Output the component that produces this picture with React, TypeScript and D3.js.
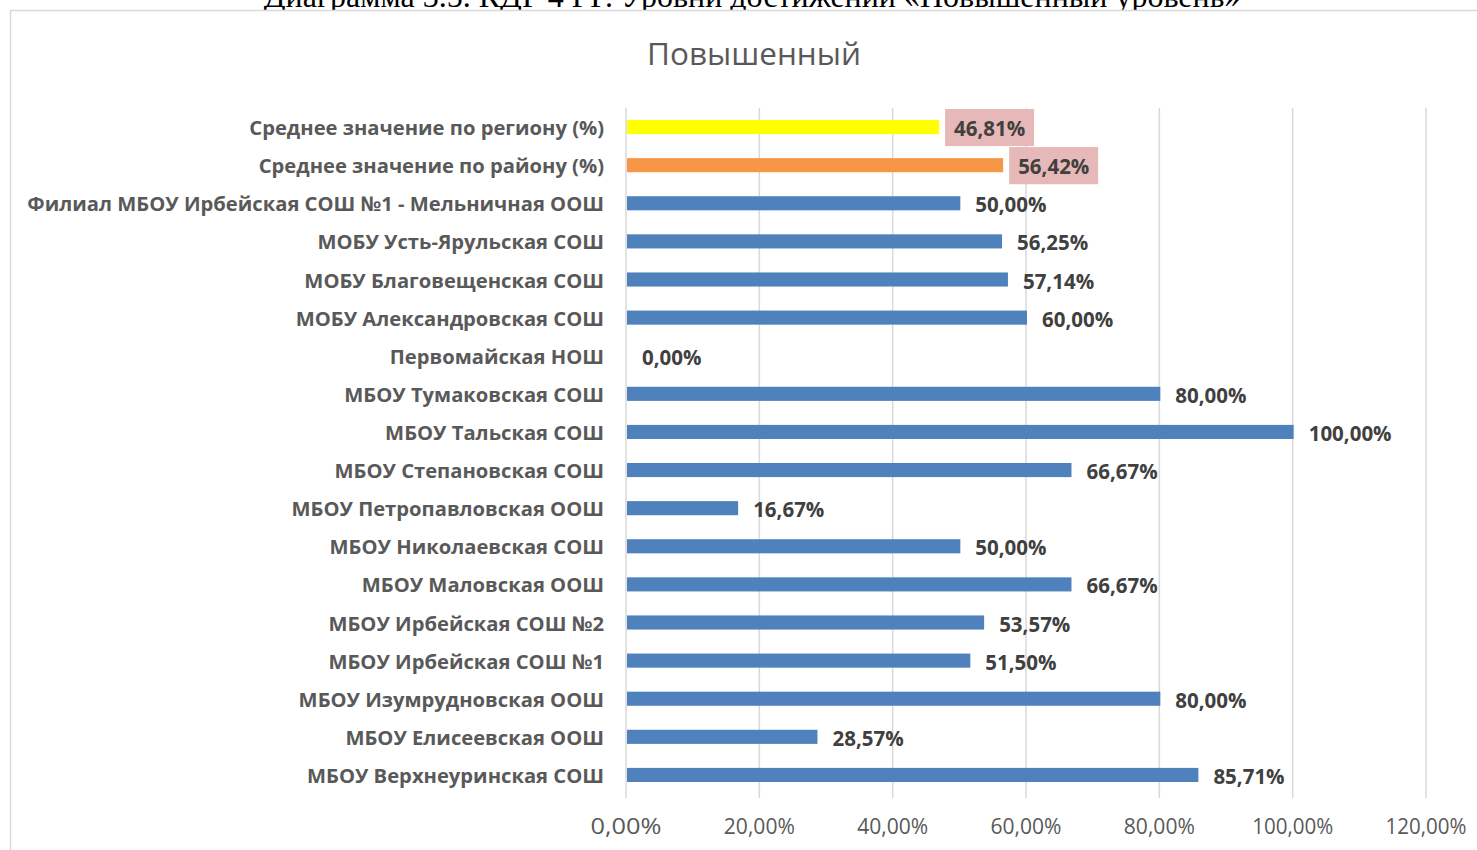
import React, { useEffect, useRef } from 'react'
import * as d3 from 'd3'

const categories = [
  'Среднее значение по региону (%)',
  'Среднее значение по району (%)',
  'Филиал МБОУ Ирбейская СОШ №1 - Мельничная ООШ',
  'МОБУ Усть-Ярульская СОШ',
  'МОБУ Благовещенская СОШ',
  'МОБУ Александровская СОШ',
  'Первомайская НОШ',
  'МБОУ Тумаковская СОШ',
  'МБОУ Тальская СОШ',
  'МБОУ Степановская СОШ',
  'МБОУ Петропавловская ООШ',
  'МБОУ Николаевская СОШ',
  'МБОУ Маловская ООШ',
  'МБОУ Ирбейская СОШ №2',
  'МБОУ Ирбейская СОШ №1',
  'МБОУ Изумрудновская ООШ',
  'МБОУ Елисеевская ООШ',
  'МБОУ Верхнеуринская СОШ',
]
const values = [46.81, 56.42, 50, 56.25, 57.14, 60, 0, 80, 100, 66.67, 16.67, 50, 66.67, 53.57, 51.5, 80, 28.57, 85.71]
const barColors = ['#ffff00', '#f79646']
const highlighted = [0, 1]
const ticks = [0, 20, 40, 60, 80, 100, 120]

const W = 1477, H = 850
const margin = { top: 108, right: 51, bottom: 56, left: 626 }
const font = '"Open Sans", sans-serif'

const fmt = (v: number) => v.toFixed(2).replace('.', ',') + '%'

export default function App() {
  const ref = useRef<SVGSVGElement>(null)

  useEffect(() => {
    const svg = d3.select(ref.current)
    svg.selectAll('*').remove()

    const x = d3.scaleLinear().domain([0, 120]).range([margin.left, W - margin.right])
    const y = d3.scaleBand<string>().domain(categories).range([margin.top, H - margin.bottom]).paddingInner(0.63).paddingOuter(0.315)

    // caption cut off above the frame (as in the source image)
    svg.append('text')
      .attr('x', 752).attr('y', 7)
      .attr('text-anchor', 'middle')
      .style('font-family', '"Liberation Serif", "Times New Roman", serif')
      .style('font-size', '32px')
      .style('fill', '#000')
      .text('Диаграмма 3.5. КДР 4 ГГ. Уровни достижений «Повышенный уровень»')

    // chart frame
    svg.append('rect')
      .attr('x', 10.5).attr('y', 10.5).attr('width', W + 20).attr('height', H + 20)
      .attr('fill', '#fff').attr('stroke', '#d9d9d9').attr('stroke-width', 1.5)

    svg.append('text')
      .attr('x', 754).attr('y', 65)
      .attr('text-anchor', 'middle')
      .style('font-family', font)
      .style('font-size', '31.5px')
      .style('fill', '#595959')
      .text('Повышенный')

    // grid
    svg.append('g').selectAll('line').data(ticks).join('line')
      .attr('x1', d => x(d)).attr('x2', d => x(d))
      .attr('y1', margin.top).attr('y2', H - margin.bottom + 4)
      .attr('stroke', '#d9d9d9').attr('stroke-width', 1.5)

    svg.append('g').selectAll('text').data(ticks).join('text')
      .attr('x', d => x(d)).attr('y', 834)
      .attr('text-anchor', 'middle')
      .style('font-family', font)
      .style('font-size', '22px')
      .style('fill', '#595959')
      .attr('lengthAdjust', 'spacingAndGlyphs')
      .text(d => fmt(d))
      .attr('textLength', d => (d >= 100 ? 81 : 71))

    // category labels
    svg.append('g').selectAll('text').data(categories).join('text')
      .attr('x', margin.left - 22)
      .attr('y', d => y(d)! + y.bandwidth() / 2 + 8)
      .attr('text-anchor', 'end')
      .style('font-family', font)
      .style('font-weight', 'bold')
      .style('font-size', '20.2px')
      .style('fill', '#595959')
      .text(d => d)

    // bars
    svg.append('g').selectAll('rect').data(categories).join('rect')
      .attr('x', x(0) + 1)
      .attr('y', d => y(d)!)
      .attr('width', (d, i) => Math.max(0, x(values[i]) - x(0)))
      .attr('height', y.bandwidth())
      .attr('fill', (d, i) => i < barColors.length ? barColors[i] : '#4f81bd')

    // label boxes for the averages
    const step = y.step()
    svg.append('g').selectAll('rect').data(highlighted).join('rect')
      .attr('x', i => x(values[i]) + 7)
      .attr('y', i => y(categories[i])! + y.bandwidth() / 2 - step / 2 + 1)
      .attr('width', 89)
      .attr('height', step - 1)
      .attr('fill', '#e6b8b7')

    svg.append('g').selectAll('text').data(categories).join('text')
      .attr('x', (d, i) => x(values[i]) + 16)
      .attr('y', d => y(d)! + y.bandwidth() / 2 + 9)
      .style('font-family', font)
      .style('font-weight', 'bold')
      .style('font-size', '20.5px')
      .style('fill', '#404040')
      .text((d, i) => fmt(values[i]))
  }, [])

  return (
    <svg ref={ref} width={W} height={H} style={{ position: 'absolute', left: 0, top: 0, background: '#fff' }} />
  )
}
